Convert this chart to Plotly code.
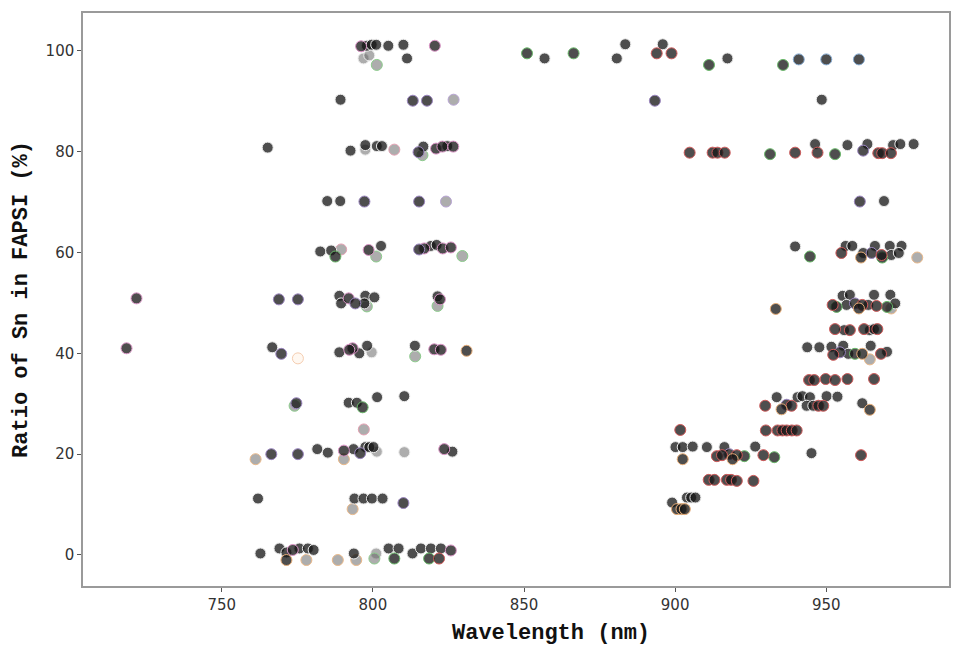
import plotly.graph_objects as go

# Measured peak wavelength (nm) vs. Sn ratio (%), grouped by marker outline / shade
wl_dark_plain = [798.0, 799.6, 801.1, 805.1, 810.1, 811.3, 856.8, 880.7, 883.5, 895.9, 917.3,
                 789.3, 948.5,
                 765.2, 792.6, 797.5, 801.3, 803.0, 816.7, 824.6, 946.3, 957.0, 963.6, 972.1, 974.5, 978.9,
                 784.9, 789.2, 969.1,
                 782.6, 786.2, 802.7, 819.2, 821.1, 939.7, 956.4, 958.6, 966.1, 971.0, 971.5, 974.9, 974.0, 962.2,
                 788.9, 789.5, 797.5, 797.2, 800.5, 821.4, 955.4, 957.8, 965.8, 971.2, 956.7, 963.9, 972.8,
                 955.9, 964.4, 965.8,
                 766.7, 788.9, 795.5, 798.1, 813.9, 943.7, 947.7, 951.7, 955.6, 964.7, 957.3, 970.1,
                 792.0, 794.7, 801.4, 810.4, 933.6, 940.5, 942.1, 944.6, 943.5, 945.7, 950.1, 953.7, 961.9,
                 781.6, 785.1, 793.6, 797.5, 798.8, 800.2, 826.3, 900.1, 902.5, 905.8, 910.5, 916.3, 926.5, 945.1,
                 762.0, 793.9, 796.9, 799.7, 803.2, 899.0, 903.9, 905.3, 906.7,
                 762.8, 769.1, 771.4, 775.7, 778.5, 780.4, 793.7, 805.2, 808.5, 813.1, 815.9, 819.2, 822.5]
sn_dark_plain = [101.0, 101.2, 101.2, 101.0, 101.2, 98.5, 98.5, 98.5, 101.3, 101.3, 98.5,
                 90.3, 90.3,
                 80.8, 80.2, 81.3, 81.1, 81.1, 81.0, 81.1, 81.5, 81.3, 81.5, 81.3, 81.5, 81.5,
                 70.2, 70.2, 70.2,
                 60.2, 60.4, 61.3, 61.3, 61.5, 61.2, 61.3, 61.3, 61.3, 61.3, 59.5, 61.3, 59.9, 59.9,
                 51.4, 49.9, 51.4, 49.9, 51.1, 51.3, 51.4, 51.6, 51.6, 51.6, 49.6, 49.6, 49.9,
                 44.6, 44.6, 44.8,
                 41.2, 40.2, 40.0, 41.5, 41.5, 41.2, 41.2, 41.3, 41.5, 41.5, 39.9, 40.3,
                 30.2, 30.2, 31.3, 31.5, 31.3, 31.3, 31.5, 31.3, 29.6, 29.6, 31.5, 31.4, 30.1,
                 21.0, 20.3, 21.0, 21.4, 21.4, 21.4, 20.5, 21.4, 21.4, 21.5, 21.4, 21.4, 21.5, 20.2,
                 11.2, 11.2, 11.2, 11.2, 11.2, 10.4, 11.4, 11.4, 11.4,
                 0.3, 1.3, 0.5, 1.3, 1.3, 1.0, 0.3, 1.3, 1.3, 0.3, 1.3, 1.3, 1.3]

wl_dark_pink = [796.1, 820.5, 820.9, 823.0, 826.6, 798.6, 817.0, 823.1, 825.8, 721.8, 792.0, 822.2,
                718.5, 793.3, 792.2, 820.3, 822.5, 790.4, 823.6, 825.8, 773.5]
sn_dark_pink = [100.9, 101.0, 80.6, 81.0, 81.0, 60.5, 60.8, 60.8, 61.0, 50.9, 50.9, 50.7,
                41.0, 41.0, 40.7, 40.8, 40.7, 20.7, 21.0, 0.9, 1.0]

wl_dark_purple = [813.2, 817.9, 893.3, 815.1, 962.2, 797.2, 815.3, 961.1, 815.3, 965.0, 768.9, 775.2,
                  794.2, 959.5, 769.7, 954.5, 774.7, 936.9, 766.4, 775.2, 795.8, 917.9, 810.1]
sn_dark_purple = [90.1, 90.1, 90.1, 79.9, 80.2, 70.1, 70.1, 70.1, 60.6, 59.9, 50.7, 50.7,
                  49.9, 49.9, 39.9, 40.2, 30.1, 29.8, 20.0, 20.0, 20.2, 20.0, 10.3]

wl_dark_green = [851.0, 866.4, 911.2, 935.7, 931.4, 952.9, 787.6, 944.6, 968.5, 953.4, 970.1, 959.5,
                 796.6, 922.9, 932.8, 807.1, 818.6]
sn_dark_green = [99.5, 99.5, 97.2, 97.2, 79.5, 79.5, 59.2, 59.2, 59.0, 49.2, 49.2, 39.9,
                 29.3, 19.6, 19.4, -0.7, -0.7]

wl_dark_red = [893.9, 898.8, 904.8, 912.4, 914.0, 916.4, 939.7, 947.1, 967.2, 968.5, 971.4,
               955.0, 968.3, 952.1, 961.9, 966.6, 952.9, 957.8, 962.5, 966.9, 952.3, 968.1,
               944.3, 946.0, 949.8, 952.9, 957.0, 965.8, 929.8, 938.5, 947.4, 949.0,
               901.7, 930.0, 933.9, 935.5, 936.9, 938.6, 940.2,
               913.8, 915.5, 920.4, 929.2, 961.5,
               911.1, 913.0, 917.1, 918.5, 920.4, 925.9, 821.9]
sn_dark_red = [99.5, 99.5, 79.8, 79.8, 79.8, 79.8, 79.8, 79.8, 79.7, 79.7, 79.7,
               59.9, 59.5, 49.6, 49.6, 49.4, 44.8, 44.6, 44.8, 44.8, 39.7, 39.9,
               34.7, 34.7, 34.9, 34.7, 34.9, 34.9, 29.6, 29.6, 29.6, 29.6,
               24.8, 24.7, 24.7, 24.7, 24.7, 24.7, 24.7,
               19.6, 19.8, 19.8, 19.8, 19.8,
               14.9, 14.9, 14.9, 14.9, 14.7, 14.7, -0.7]

wl_dark_orange = [961.5, 933.3, 960.8, 961.9, 831.0, 935.2, 964.4, 902.5, 919.0, 900.6, 902.1, 903.2, 771.4]
sn_dark_orange = [59.0, 48.8, 48.9, 39.9, 40.5, 28.9, 28.8, 19.0, 19.0, 9.1, 9.1, 9.1, -1.0]

wl_dark_blue = [940.9, 950.0, 960.8]
sn_dark_blue = [98.3, 98.3, 98.3]

wl_light_plain = [796.9, 798.8, 797.5, 799.6, 801.3, 810.4, 801.1]
sn_light_plain = [98.5, 99.1, 80.4, 40.2, 20.5, 20.4, 0.3]

wl_light_green = [801.3, 816.4, 801.1, 829.6, 798.0, 821.4, 814.0, 774.1, 800.5]
sn_light_green = [97.2, 79.3, 59.2, 59.3, 49.3, 49.4, 39.4, 29.6, -0.7]

wl_light_orange = [980.1, 971.5, 964.4, 761.2, 790.4, 793.3, 778.0, 788.4, 794.5]
sn_light_orange = [59.0, 48.9, 38.8, 19.0, 19.0, 9.1, -1.0, -1.0, -1.0]

wl_light_pink = [807.1, 789.5, 797.0]
sn_light_pink = [80.4, 60.6, 24.9]

wl_light_purple = [826.7, 824.2]
sn_light_purple = [90.3, 70.1]

wl_pale_orange = [775.2]
sn_pale_orange = [39.0]

DARK = "rgba(22,22,22,0.76)"
LIGHT = "rgba(105,105,105,0.55)"
PALE = "rgba(255,245,235,0.7)"

groups = [
    (wl_light_plain, sn_light_plain, LIGHT, "#ececec"),
    (wl_light_green, sn_light_green, LIGHT, "#8ccc8c"),
    (wl_light_orange, sn_light_orange, LIGHT, "#eab98a"),
    (wl_light_pink, sn_light_pink, LIGHT, "#e3a0b2"),
    (wl_light_purple, sn_light_purple, LIGHT, "#b8a4d4"),
    (wl_pale_orange, sn_pale_orange, PALE, "#f5cdb0"),
    (wl_dark_plain, sn_dark_plain, DARK, "#ececec"),
    (wl_dark_pink, sn_dark_pink, DARK, "#dc96c8"),
    (wl_dark_purple, sn_dark_purple, DARK, "#9b86c0"),
    (wl_dark_green, sn_dark_green, DARK, "#6ab86a"),
    (wl_dark_red, sn_dark_red, DARK, "#cf5a5a"),
    (wl_dark_orange, sn_dark_orange, DARK, "#e6ad78"),
    (wl_dark_blue, sn_dark_blue, DARK, "#86acd4"),
]

fig = go.Figure()
for wl, sn, fill, edge in groups:
    fig.add_trace(go.Scatter(
        x=wl, y=sn, mode="markers", showlegend=False, hoverinfo="x+y",
        marker=dict(size=11, color=fill, line=dict(color=edge, width=1)),
    ))

tick_font = dict(family="DejaVu Sans, sans-serif", size=15, color="#333333")
title_font = dict(family="Liberation Mono, Courier New, monospace", size=22, color="#111111")

fig.update_layout(
    width=954, height=646,
    margin=dict(l=83, r=3, t=13, b=60),
    paper_bgcolor="white", plot_bgcolor="white",
    font=tick_font,
    xaxis=dict(
        range=[704.1, 990.6], tickvals=[750, 800, 850, 900, 950],
        showgrid=False, zeroline=False,
        showline=True, mirror=True, linecolor="#9a9a9a", linewidth=1.5,
        ticks="outside", ticklen=4, tickcolor="#555555", tickfont=tick_font,
    ),
    yaxis=dict(
        range=[-6.15, 107.5], tickvals=[0, 20, 40, 60, 80, 100],
        showgrid=False, zeroline=False,
        showline=True, mirror=True, linecolor="#9a9a9a", linewidth=1.5,
        ticks="outside", ticklen=4, tickcolor="#555555", tickfont=tick_font,
        title=dict(text="<b>Ratio of Sn in FAPSI (%)</b>", font=title_font, standoff=12),
    ),
    annotations=[dict(
        text="<b>Wavelength (nm)</b>", font=title_font,
        xref="paper", yref="paper", x=0.5405, y=-0.0825,
        xanchor="center", yanchor="middle", showarrow=False,
    )],
)

fig.write_html("out.html")
